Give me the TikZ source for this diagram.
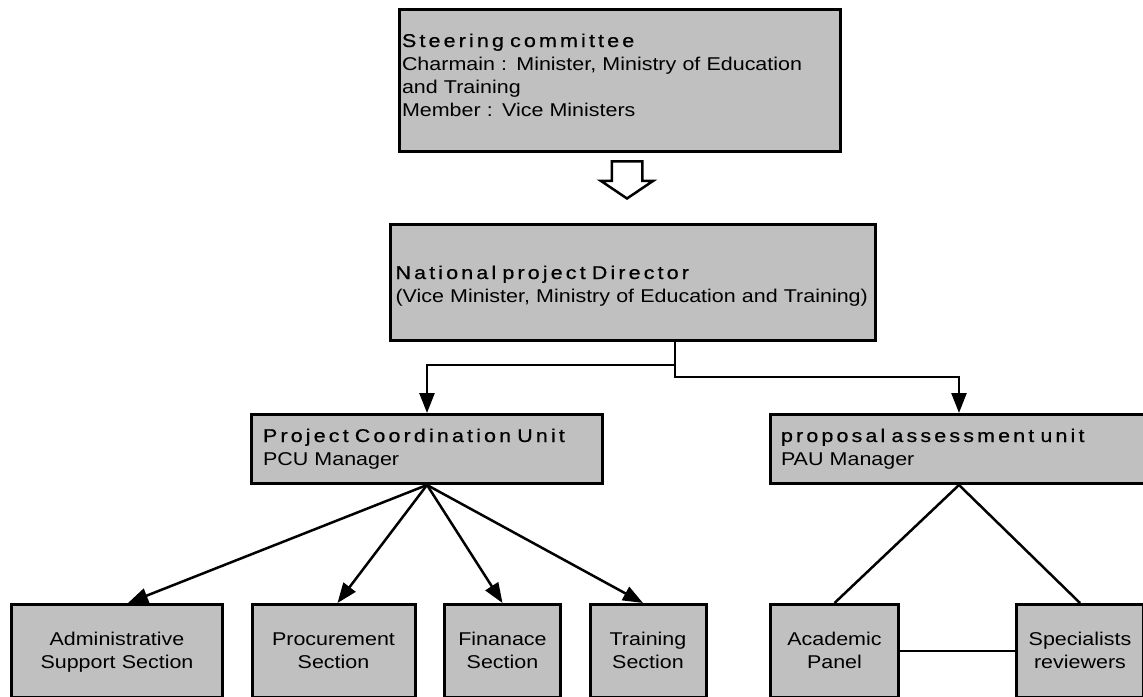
\documentclass[tikz,border=0pt]{standalone}
\usepackage{fontspec}
\setmainfont{Liberation Sans}[FakeStretch=1.16]
\newfontfamily\titlefont{Liberation Sans}[FakeStretch=1.16, LetterSpace=17, FakeBold=0.6]
\definecolor{boxgray}{RGB}{192, 192, 192}
\usetikzlibrary{arrows.meta, positioning, shapes.arrows}
\newcommand{\boxsize}{\fontsize{18.5}{23}\selectfont}
\tikzset{
	unit/.style={rectangle, draw=black, fill=boxgray, line width=3pt, inner ysep=0pt, align=left, text height=14pt, font=\boxsize},
	section/.style={unit, align=center, inner xsep=4pt, minimum height=93pt, text depth=26pt},
	arrow/.style={-{Triangle[length=20pt, width=15pt]}, line width=2.5pt},
	link/.style={line width=2.5pt},
	hollow/.style={single arrow, draw=black, fill=white, line width=2.5pt, rotate=-90, inner xsep=0pt, inner ysep=14pt, minimum width=0pt, minimum height=37pt, single arrow head extend=11pt, single arrow tip angle=112},
}

\begin{document}
\begin{tikzpicture}[x=1pt, y=-1pt, node distance=26.5pt]
		\useasboundingbox (0,0) rectangle (1143,696);
		\clip (0,0) rectangle (1143,696);
		% top of the structure
		\node[unit, minimum width=441pt, minimum height=142pt, inner xsep=2.5pt, text width=436pt, text depth=81pt] (steer) at (620,80.5) {{\titlefont Steering committee}\\Charmain : Minister, Ministry of Education\\and Training\\Member : Vice Ministers};
		\node[hollow, anchor=tip] (down) at (627,200) {};
		\node[unit, minimum width=485pt, minimum height=116pt, inner xsep=5pt, text width=475pt, text depth=21pt] (npd) at (633,282.5) {{\titlefont National project Director}\\\mbox{(Vice Minister, Ministry of Education and Training)}};
		% units
		\node[unit, minimum width=351pt, minimum height=69pt, inner xsep=11.5pt, text width=328pt, text depth=28pt] (pcu) at (427,449) {{\titlefont Project Coordination Unit}\\PCU Manager};
		\node[unit, minimum width=377pt, minimum height=69pt, inner xsep=10.5pt, text width=356pt, text depth=28pt] (pau) at (959,449) {{\titlefont proposal assessment unit}\\PAU Manager};
		% sections
		\node[section, minimum width=211pt, text width=203pt] (adm) at (117,651) {Administrative\\Support Section};
		\node[section, minimum width=163pt, text width=155pt, right=of adm] (proc) {Procurement\\Section};
		\node[section, minimum width=116pt, text width=108pt, right=of proc] (fin) {Finanace\\Section};
		\node[section, minimum width=116pt, text width=108pt, right=of fin] (train) {Training\\Section};
		\node[section, minimum width=128pt, text width=120pt] (acad) at (834.5,651) {Academic\\Panel};
		\node[section, minimum width=127pt, text width=119pt, right=115pt of acad] (spec) {Specialists\\reviewers};
		\draw[arrow] ([xshift=42pt]npd.south) -- ++(0,23) -| (pcu.north);
		\draw[arrow] ([xshift=42pt]npd.south) -- ++(0,35) -| (pau.north);
		\draw[arrow] (pcu.south) -- ([xshift=11pt]adm.north);
		\draw[arrow] (pcu.south) -- ([xshift=4pt]proc.north);
		\draw[arrow] (pcu.south) -- (fin.north);
		\draw[arrow] (pcu.south) -- ([xshift=-5pt]train.north);
		\draw[link] (pau.south) -- (acad.north);
		\draw[link] (pau.south) -- (spec.north);
		\draw[link] (acad) -- (spec);
	\end{tikzpicture}
\end{document}
